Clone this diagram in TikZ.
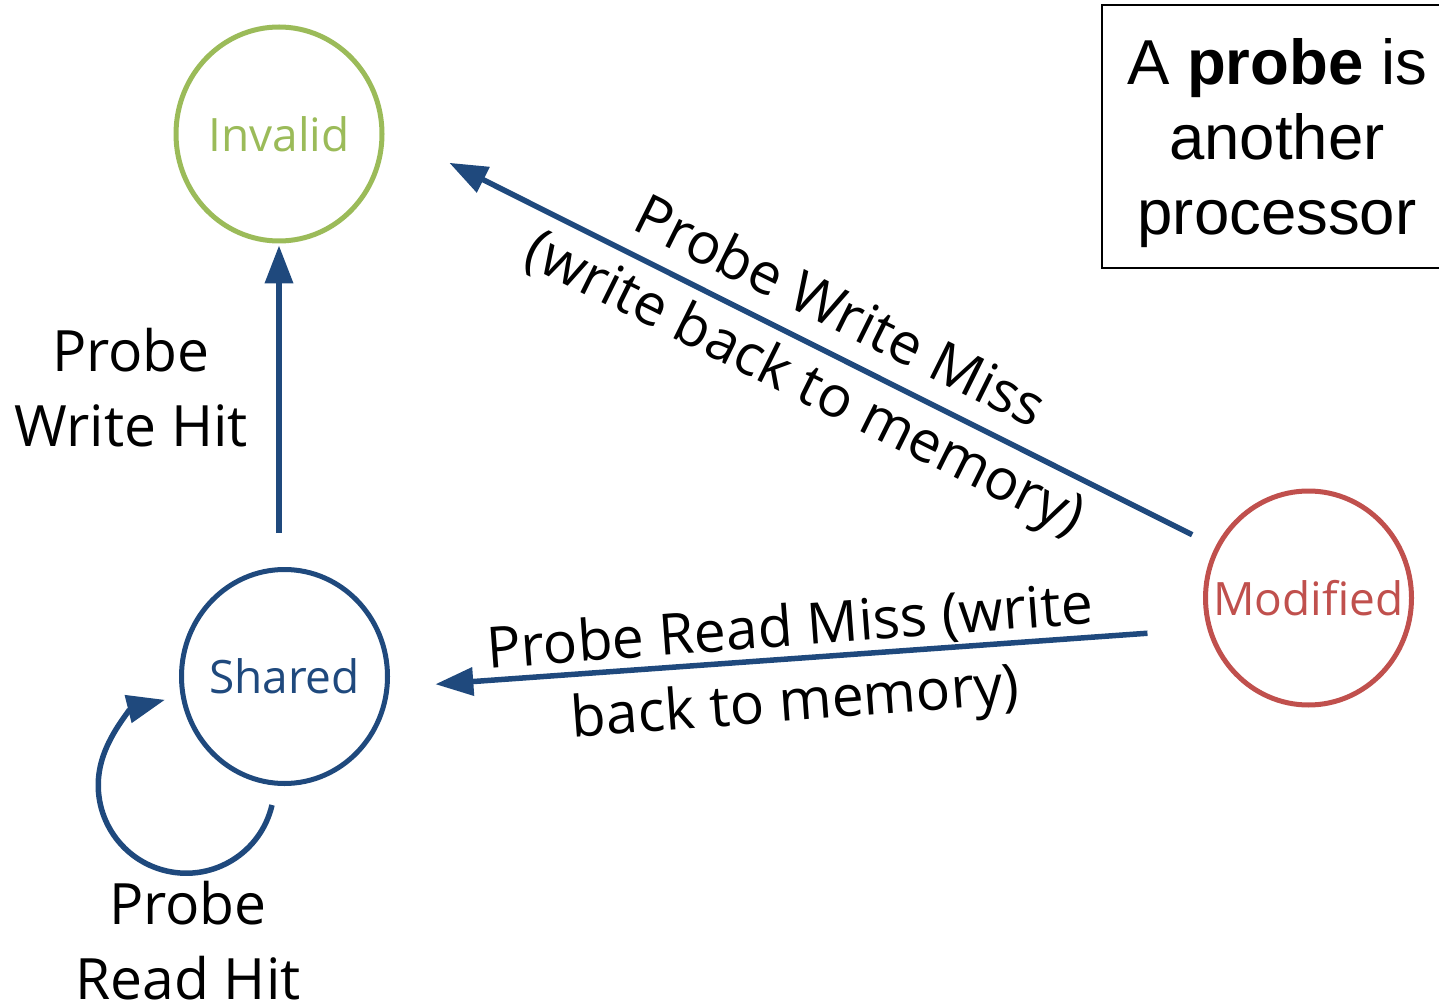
\documentclass[tikz,border=0pt]{standalone}
\usepackage{fontspec}
\setmainfont{Open Sans}
\newfontfamily\notefont{Liberation Sans}
\usetikzlibrary{arrows.meta,shapes.geometric}

\definecolor{stgreen}{HTML}{9BBB59}
\definecolor{stblue}{HTML}{1F497D}
\definecolor{stred}{HTML}{C0504D}

\tikzset{
  state/.style={ellipse, draw, line width=2.5pt, minimum width=103pt, minimum height=107pt,
    inner sep=0pt, font=\fontsize{23}{27}\selectfont},
  flow/.style={draw=stblue, line width=2.75pt, -{Triangle[length=19pt,width=13.75pt]}},
  edgetext/.style={font=\fontsize{28.5}{37.5}\selectfont, align=center, inner sep=0pt},
}

\begin{document}
\begin{tikzpicture}[x=0.5pt,y=-0.5pt]
\useasboundingbox (0,0) rectangle (1439,1005);
% states
\node[state, draw=stgreen, text=stgreen] (invalid) at (279,134) {\makebox[0pt]{Invalid}};
\node[state, draw=stblue, text=stblue] (shared) at (284.5,676.5) {\makebox[0pt]{Shared}};
\node[state, draw=stred, text=stred] (modified) at (1308.5,598) {\makebox[0pt]{Modified}};
% note box
\node[draw, line width=1pt, minimum width=175pt, minimum height=131.5pt, inner sep=0pt] (note) at (1277,136.5) {};
\node[font=\notefont\fontsize{31.75}{37.5}\selectfont, align=center, inner sep=0pt] (notetext) at (1277,143.5)
  {A \textbf{probe} is\\another\\processor};
% transitions
\draw[flow, shorten <=17pt, shorten >=1pt] (invalid.south |- shared.north) -- (invalid.south);
\draw[flow, shorten <=13pt, shorten >=36.3pt] (modified.151) -- (invalid.2);
\draw[flow, shorten <=30pt, shorten >=23pt] (modified.197) -- (shared.-6);
\coordinate (loopfrom) at ([xshift=-6.25pt,yshift=-64.25pt]shared.center);
\draw[flow] (loopfrom) arc[start angle=-13, end angle=-256, radius=44pt];
% labels
\node[edgetext] (whit) at (131,388) {Probe\\Write Hit};
\node[edgetext] (rhit) at (188,941) {Probe\\Read Hit};
\node[edgetext, font=\fontsize{28.5}{39.5}\selectfont, rotate=-26.4] (wmiss) at (821,351)
  {Probe Write Miss\\(write back to memory)};
\node[edgetext, rotate=4.3] (rmiss) at (793,668.5) {Probe Read Miss (write\\back to memory)};
\end{tikzpicture}
\end{document}
